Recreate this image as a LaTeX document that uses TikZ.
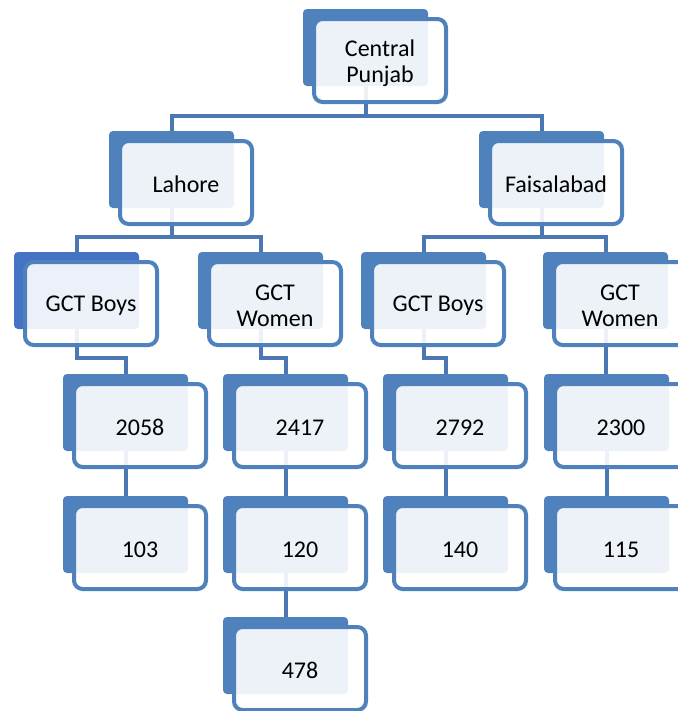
\documentclass[tikz,border=0pt]{standalone}
\usepackage{fontspec}
\setmainfont{Carlito}
\usetikzlibrary{calc}
\pgfdeclarelayer{bg}
\pgfsetlayers{bg,main}
\definecolor{backblue}{RGB}{79,129,189}
\definecolor{backblueB}{RGB}{68,114,196}
\definecolor{lineblue}{RGB}{75,120,178}
\definecolor{edgeblue}{RGB}{79,129,189}
\tikzset{
  backbox/.style={rectangle, draw=none, rounded corners=3pt, inner sep=0pt,
    minimum width=93.75pt, minimum height=57.75pt},
  frontbox/.style={rectangle, draw=edgeblue, line width=3pt, rounded corners=6.5pt,
    fill=white, fill opacity=0.9, inner sep=0pt,
    minimum width=99pt, minimum height=62.25pt},
  boxtext/.style={inner sep=0pt, align=center,
    font=\fontsize{18}{19.5}\selectfont},
  conn/.style={draw=lineblue, line width=3pt}
}
\newcommand\orgbox[6]{%
  \node[backbox, fill=#5] (#1) at (#2+62.5,#3+38.5) {};
  \node[frontbox] (#1f) at ($(#1)+(14.5,13)$) {};
  \node[boxtext] (#1t) at ($(#1f)+(0,#6)$) {#4};
}
\begin{document}
\begin{tikzpicture}[x=0.75pt,y=-0.75pt]
\useasboundingbox (0,0) rectangle (678,711);
\clip (0,0) rectangle (678,711);
\coordinate (bus1) at (0,116);
\coordinate (bus2) at (0,237);
\coordinate (el) at (0,358);
\orgbox{cp}{303}{9}{Central\\Punjab}{backblue}{3}
\orgbox{lah}{109}{131}{Lahore}{backblue}{1.5}
\orgbox{fai}{479}{131}{Faisalabad}{backblue}{1.5}
\orgbox{gbl}{14}{252}{GCT Boys}{backblueB}{2}
\orgbox{gwl}{198}{252}{GCT\\Women}{backblue}{2.5}
\orgbox{gbr}{361}{252}{GCT Boys}{backblue}{2}
\orgbox{gwr}{543}{252}{GCT\\Women}{backblue}{2.5}
\orgbox{na}{63}{374}{2058}{backblue}{2}
\orgbox{nb}{223}{374}{2417}{backblue}{2}
\orgbox{nc}{383}{374}{2792}{backblue}{2}
\orgbox{nd}{544}{374}{2300}{backblue}{2}
\orgbox{ma}{63}{496}{103}{backblue}{2}
\orgbox{mb}{223}{496}{120}{backblue}{2}
\orgbox{mc}{383}{496}{140}{backblue}{2}
\orgbox{md}{544}{496}{115}{backblue}{2}
\orgbox{lb}{223}{617}{478}{backblue}{2}
\begin{pgfonlayer}{bg}
  \draw[conn] (cp.south) -- (cp.south |- bus1);
  \draw[conn] (lah.north) |- (fai.north |- bus1) -- (fai.north);
  \draw[conn] (lah.south) -- (lah.south |- bus2);
  \draw[conn] (gbl.north) |- (gwl.north |- bus2) -- (gwl.north);
  \draw[conn] (fai.south) -- (fai.south |- bus2);
  \draw[conn] (gbr.north) |- (gwr.north |- bus2) -- (gwr.north);
  \draw[conn] (gbl.south) |- (na.north |- el) -- (na.north);
  \draw[conn] (gwl.south) |- (nb.north |- el) -- (nb.north);
  \draw[conn] (gbr.south) |- (nc.north |- el) -- (nc.north);
  \draw[conn] (gwr.south) -- (gwr.south |- nd.north);
  \draw[conn] (na.south) -- (ma.north);
  \draw[conn] (nb.south) -- (mb.north);
  \draw[conn] (nc.south) -- (mc.north);
  \draw[conn] (nd.south) -- (md.north);
  \draw[conn] (mb.south) -- (lb.north);
\end{pgfonlayer}
\end{tikzpicture}
\end{document}
